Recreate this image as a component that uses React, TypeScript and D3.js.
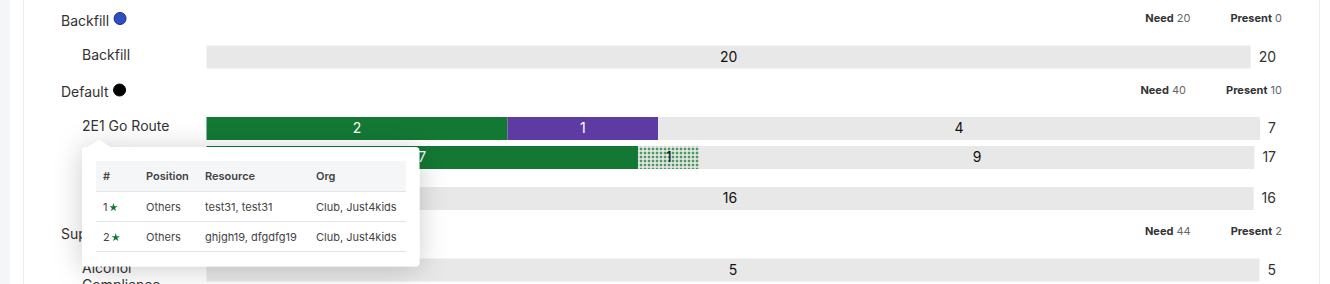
import React, { useEffect, useRef } from "react";
import * as d3 from "d3";

// ---------- data ----------
const groupNames = ["Backfill", "Default", "Support"];
const groupNeed = [20, 40, 44];
const groupPresent = [0, 10, 2];

const rowGroup = [0, 1, 1, 1, 2];
const rowLabels = ["Backfill", "2E1 Go Route", "2E2 Go\nRoute", "2E3 Route", "Alcohol\nCompliance"];

const segKeys = ["confirmed", "tentative", "pending", "open"];
const confirmedVals = [0, 2, 7, 0, 0];
const tentativeVals = [0, 1, 0, 0, 0];
const pendingVals = [0, 0, 1, 0, 0];
const openVals = [20, 4, 9, 16, 5];

const tipHeaders = ["#", "Position", "Resource", "Org"];
const tipNums = ["1", "2"];
const tipPositions = ["Others", "Others"];
const tipResources = ["test31, test31", "ghjgh19, dfgdfg19"];
const tipOrgs = ["Club, Just4kids", "Club, Just4kids"];

// ---------- styles ----------
const W = 1330;
const H = 284;
const FONT = "Inter, 'Liberation Sans', Arial, sans-serif";
const dotColors = ["#2d4fc2", "#000000", "none"];
const dotStroke = ["#1b2e78", "#000000", "none"];
const segColor: Record<string, string> = {
  confirmed: "#137834",
  tentative: "#5e3ba3",
  pending: "url(#hatch)",
  open: "#e8e8e8",
};
const segText: Record<string, string> = {
  confirmed: "#ffffff",
  tentative: "#ffffff",
  pending: "#111111",
  open: "#111111",
};

export default function App() {
  const ref = useRef<SVGSVGElement>(null);

  useEffect(() => {
    const svg = d3.select(ref.current);
    svg.selectAll("*").remove();

    const defs = svg.append("defs");
    const pat = defs
      .append("pattern")
      .attr("id", "hatch")
      .attr("width", 4)
      .attr("height", 4)
      .attr("patternUnits", "userSpaceOnUse");
    pat.append("rect").attr("width", 4).attr("height", 4).attr("fill", "#c4d6c7");
    pat.append("rect").attr("width", 2).attr("height", 2).attr("fill", "#4f9462");
    pat.append("rect").attr("x", 2).attr("y", 2).attr("width", 2).attr("height", 2).attr("fill", "#dfe8e0");

    const filt = defs
      .append("filter")
      .attr("id", "shadow")
      .attr("x", "-30%")
      .attr("y", "-50%")
      .attr("width", "160%")
      .attr("height", "200%");
    filt
      .append("feDropShadow")
      .attr("dx", 0)
      .attr("dy", 3)
      .attr("stdDeviation", 14)
      .attr("flood-color", "#000")
      .attr("flood-opacity", 0.2);

    // page background
    svg.append("rect").attr("width", W).attr("height", H).attr("fill", "#ffffff");
    svg.append("rect").attr("width", 10).attr("height", H).attr("fill", "#f5f6f8");
    svg.append("line").attr("x1", 23.5).attr("x2", 23.5).attr("y1", 0).attr("y2", H).attr("stroke", "#ededed");
    svg.append("line").attr("x1", 1319.5).attr("x2", 1319.5).attr("y1", 0).attr("y2", H).attr("stroke", "#ededed");

    // stacked, normalised segments
    const rows = rowLabels.map((_, i) => ({
      confirmed: confirmedVals[i],
      tentative: tentativeVals[i],
      pending: pendingVals[i],
      open: openVals[i],
    }));
    const stacked = d3.stack<any>().keys(segKeys).offset(d3.stackOffsetExpand)(rows);

    const barX0 = 206.5;
    const totalRight = 1276;
    const barH = 23;
    const lineH = 17.5;

    let y = 21;
    groupNames.forEach((gName, g) => {
      const gg = svg.append("g");
      const t = gg
        .append("text")
        .attr("x", 61)
        .attr("y", y)
        .attr("dy", "0.35em")
        .attr("font-size", 14)
        .attr("fill", "#333")
        .text(gName);
      const tw = (t.node() as SVGTextElement).getComputedTextLength();
      if (dotColors[g] !== "none") {
        gg.append("circle")
          .attr("cx", 61 + tw + 11)
          .attr("cy", y - 2.5)
          .attr("r", 6)
          .attr("fill", dotColors[g])
          .attr("stroke", dotStroke[g])
          .attr("stroke-width", 1);
      }
      // need / present
      const pres = gg
        .append("text")
        .attr("x", 1282)
        .attr("y", y - 2.5)
        .attr("dy", "0.35em")
        .attr("text-anchor", "end")
        .attr("font-size", 11);
      pres.append("tspan").attr("font-weight", 700).attr("fill", "#333").text("Present");
      pres.append("tspan").attr("fill", "#666").text(" " + groupPresent[g]);
      const pw = (pres.node() as SVGTextElement).getComputedTextLength();
      const need = gg
        .append("text")
        .attr("x", 1282 - pw - 40)
        .attr("y", y - 2.5)
        .attr("dy", "0.35em")
        .attr("text-anchor", "end")
        .attr("font-size", 11);
      need.append("tspan").attr("font-weight", 700).attr("fill", "#333").text("Need");
      need.append("tspan").attr("fill", "#666").text(" " + groupNeed[g]);

      let barTop = y + 24.5;
      rowGroup.forEach((rg, i) => {
        if (rg !== g) return;
        const lines = rowLabels[i].split("\n");
        const rowG = svg.append("g");
        lines.forEach((ln, k) => {
          rowG
            .append("text")
            .attr("x", 82)
            .attr("y", barTop + 9.5 + k * lineH)
            .attr("dy", "0.35em")
            .attr("font-size", 14)
            .attr("fill", "#333")
            .text(ln);
        });
        const total = segKeys.reduce((s, k) => s + (rows[i] as any)[k], 0);
        const tot = rowG
          .append("text")
          .attr("x", totalRight)
          .attr("y", barTop + barH / 2)
          .attr("dy", "0.35em")
          .attr("text-anchor", "end")
          .attr("font-size", 14)
          .attr("fill", "#333")
          .text(total);
        const totW = (tot.node() as SVGTextElement).getComputedTextLength();
        const barEnd = totalRight - totW - 8;
        const x = d3.scaleLinear().domain([0, 1]).range([barX0, barEnd]);
        stacked.forEach((layer) => {
          const d = layer[i];
          const key = layer.key;
          const v = (rows[i] as any)[key];
          if (!v) return;
          rowG
            .append("rect")
            .attr("x", x(d[0]))
            .attr("y", barTop)
            .attr("width", x(d[1]) - x(d[0]))
            .attr("height", barH)
            .attr("fill", segColor[key]);
          rowG
            .append("text")
            .attr("x", (x(d[0]) + x(d[1])) / 2)
            .attr("y", barTop + barH / 2)
            .attr("dy", "0.35em")
            .attr("text-anchor", "middle")
            .attr("font-size", 14)
            .attr("fill", segText[key])
            .text(v);
        });
        barTop += Math.max(barH, lines.length * lineH) + 6;
      });
      y = barTop + 18;
    });

    // ---------- tooltip ----------
    const tip = svg.append("g");
    const tx0 = 82,
      tx1 = 419.5,
      ty0 = 147,
      ty1 = 266.5,
      r = 4;
    const path = d3.path();
    path.moveTo(tx0 + r, ty0);
    path.lineTo(88, ty0);
    path.lineTo(99, 140);
    path.lineTo(110, ty0);
    path.lineTo(tx1 - r, ty0);
    path.arcTo(tx1, ty0, tx1, ty0 + r, r);
    path.lineTo(tx1, ty1 - r);
    path.arcTo(tx1, ty1, tx1 - r, ty1, r);
    path.lineTo(tx0 + r, ty1);
    path.arcTo(tx0, ty1, tx0, ty1 - r, r);
    path.lineTo(tx0, ty0 + r);
    path.arcTo(tx0, ty0, tx0 + r, ty0, r);
    path.closePath();
    tip.append("path").attr("d", path.toString()).attr("fill", "#fff").attr("filter", "url(#shadow)");

    const colX = [103, 146, 205, 316];
    const tabL = 96,
      tabR = 406;
    tip.append("rect").attr("x", tabL).attr("y", 161).attr("width", tabR - tabL).attr("height", 30).attr("fill", "#f5f6f8");
    [191, 221, 251].forEach((ly) => {
      tip.append("line").attr("x1", tabL).attr("x2", tabR).attr("y1", ly + 0.5).attr("y2", ly + 0.5).attr("stroke", "#e2e4e8");
    });
    tipHeaders.forEach((h, c) => {
      tip
        .append("text")
        .attr("x", colX[c])
        .attr("y", 176)
        .attr("dy", "0.35em")
        .attr("font-size", 11)
        .attr("font-weight", 600)
        .attr("fill", "#444")
        .text(h);
    });
    const star = d3.symbol().type(d3.symbolStar).size(22);
    tipNums.forEach((n, k) => {
      const cy = 207 + k * 30;
      const nt = tip
        .append("text")
        .attr("x", colX[0])
        .attr("y", cy)
        .attr("dy", "0.35em")
        .attr("font-size", 11)
        .attr("fill", "#444")
        .text(n);
      const nw = (nt.node() as SVGTextElement).getComputedTextLength();
      tip
        .append("path")
        .attr("d", star()!)
        .attr("transform", `translate(${colX[0] + nw + 6},${cy + 0.5})`)
        .attr("fill", "#137834");
      [tipPositions[k], tipResources[k], tipOrgs[k]].forEach((v, c) => {
        tip
          .append("text")
          .attr("x", colX[c + 1])
          .attr("y", cy)
          .attr("dy", "0.35em")
          .attr("font-size", 11)
          .attr("fill", "#444")
          .text(v);
      });
    });
  }, []);

  return (
    <svg
      ref={ref}
      width={W}
      height={H}
      style={{ position: "absolute", left: 0, top: 0, fontFamily: FONT }}
    />
  );
}
